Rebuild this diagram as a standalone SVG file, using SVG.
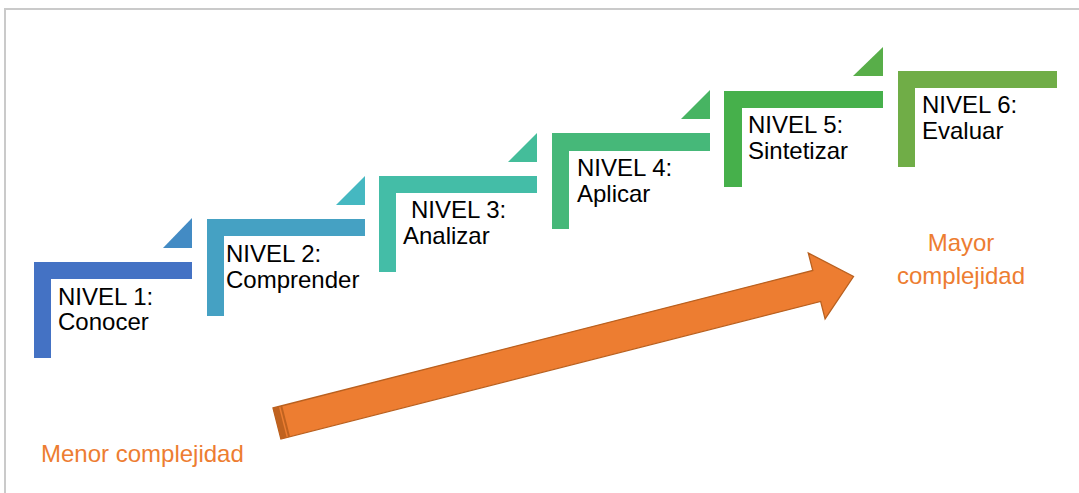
<svg xmlns="http://www.w3.org/2000/svg" width="1079" height="493" viewBox="0 0 1079 493">
<style>
.t{font-family:"Liberation Sans",Arial,sans-serif;font-size:24px;fill:#000}
.o{font-family:"Liberation Sans",Arial,sans-serif;font-size:24px;fill:#ED7D31}
</style>
<rect width="1079" height="493" fill="#fff"/>
<path d="M5,493 V9 H1079" fill="none" stroke="#cacaca" stroke-width="2"/>
<g id="nivel1">
<path d="M34,262 H192 V279 H51 V358 H34 Z" fill="#4472C4"/>
<path d="M163,248 L192,218 V248 Z" fill="#438BC4"/>
<text class="t" x="58" y="305">NIVEL 1:</text>
<text class="t" x="58" y="330">Conocer</text>
</g>
<g id="nivel2">
<path d="M207,219 H365 V236 H224 V316 H207 Z" fill="#45A1C3"/>
<path d="M336,205 L365,176 V205 Z" fill="#45B8C1"/>
<text class="t" x="226" y="262">NIVEL 2:</text>
<text class="t" x="226" y="288">Comprender</text>
</g>
<g id="nivel3">
<path d="M379,176 H537 V193 H396 V272 H379 Z" fill="#44BDA7"/>
<path d="M508,162 L537,133 V162 Z" fill="#44BD9A"/>
<text class="t" x="411" y="218">NIVEL 3:</text>
<text class="t" x="403" y="244">Analizar</text>
</g>
<g id="nivel4">
<path d="M552,133 H710 V151 H569 V229 H552 Z" fill="#46B879"/>
<path d="M681,119 L710,90 V119 Z" fill="#47B462"/>
<text class="t" x="577" y="176">NIVEL 4:</text>
<text class="t" x="577" y="202">Aplicar</text>
</g>
<g id="nivel5">
<path d="M724,91 H883 V108 H742 V187 H724 Z" fill="#46B04B"/>
<path d="M853,76 L883,47 V76 Z" fill="#58AE49"/>
<text class="t" x="748" y="133">NIVEL 5:</text>
<text class="t" x="748" y="159">Sintetizar</text>
</g>
<g id="nivel6">
<path d="M898,71 H1057 V88 H915 V167 H898 Z" fill="#70AD47"/>
<text class="t" x="922" y="113">NIVEL 6:</text>
<text class="t" x="922" y="139">Evaluar</text>
</g>
<g id="connectors">
<g transform="translate(273,408) rotate(-14.3)">
<path d="M0,0 L557,0 L557,-18 L595,16 L557,50 L557,32 L0,32 Z" fill="#ED7D31" stroke="#B9601F" stroke-width="1.3" stroke-linejoin="miter"/>
<rect x="0" y="0" width="6" height="32" fill="#C0621F"/>
<rect x="7.5" y="0" width="2" height="32" fill="#C0621F"/>
</g>
</g>
<g id="labels">
<text class="o" x="41" y="462">Menor complejidad</text>
<text class="o" x="961" y="251" text-anchor="middle">Mayor</text>
<text class="o" x="961" y="284" text-anchor="middle">complejidad</text>
</g>
</svg>
